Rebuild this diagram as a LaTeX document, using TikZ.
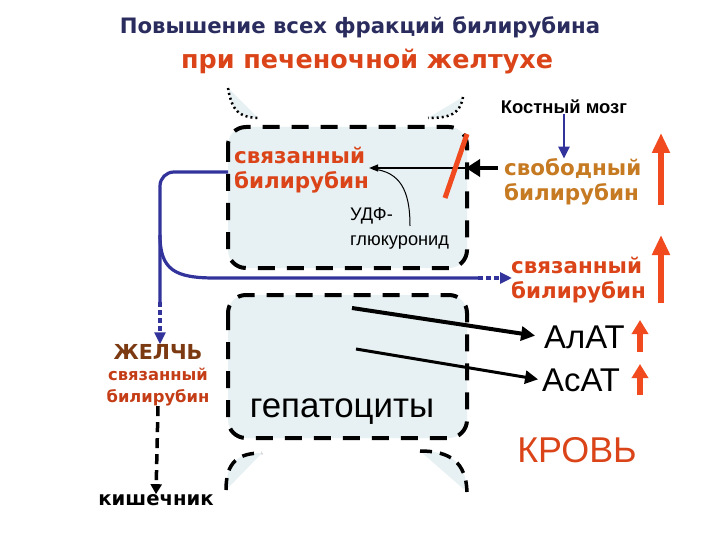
\documentclass[tikz,border=0pt]{standalone}
\usepackage{fontspec}
\setmainfont{Liberation Sans}
\newfontfamily\boldwide{DejaVu Sans}
\usetikzlibrary{arrows.meta,positioning,calc}
\definecolor{navytitle}{HTML}{2A2C5E}
\definecolor{redtext}{HTML}{DA4418}
\definecolor{ochretext}{HTML}{C67A22}
\definecolor{biletext}{HTML}{7C3A12}
\definecolor{bileblue}{HTML}{33339C}
\definecolor{uparrow}{HTML}{F04A1E}
\definecolor{cellfill}{HTML}{E7F0F2}

\begin{document}
\begin{tikzpicture}[x=1bp,y=-1bp,
  cell/.style={fill=cellfill,draw=black,line width=4bp,dash pattern=on 17bp off 12bp,rounded corners=18bp},
  cusp/.style={draw=black,line width=2.5bp,dash pattern=on 2bp off 3bp},
  cuspdash/.style={draw=black,line width=3.5bp,dash pattern=on 12bp off 8bp},
  blueline/.style={draw=bileblue,line width=3.2bp},
  bluetip/.style={-{Triangle[width=11bp,length=12bp]}},
  redup/.style={draw=uparrow,line width=5.5bp,-{Triangle[width=17bp,length=20bp]}},
  smallup/.style={draw=uparrow,line width=5.5bp,-{Triangle[width=16bp,length=14bp]}},
  heavy/.style={font=\boldwide\bfseries\fontsize{21.5}{25}\selectfont,align=left,inner sep=0pt},
  plain/.style={inner sep=0pt}]
\fill[white] (0,0) rectangle (720,540);
% title
\node[plain,text=navytitle,font=\boldwide\bfseries\fontsize{21.3}{24}\selectfont] (title1) at (360,27) {Повышение всех фракций билирубина};
\node[plain,text=redtext,font=\boldwide\bfseries\fontsize{25.5}{28}\selectfont] (title2) at (367,62) {при печеночной желтухе};
% neighbour cells
\fill[cellfill] (228,88) .. controls (232,112) and (240,117) .. (258,118) -- cycle;
\draw[cusp] (228,88) .. controls (232,112) and (240,117) .. (258,118);
\fill[cellfill] (463,97) .. controls (460,114) and (450,118) .. (428,118) -- cycle;
\draw[cusp] (463,97) .. controls (460,114) and (450,118) .. (428,118);
\fill[cellfill] (226,490) .. controls (226,462) and (238,453) .. (262,453) -- cycle;
\draw[cuspdash] (226,490) .. controls (226,462) and (238,453) .. (262,453);
\fill[cellfill] (420,451) .. controls (450,451) and (466,462) .. (467,492) -- cycle;
\draw[cuspdash] (420,451) .. controls (450,451) and (466,462) .. (467,492);
% hepatocytes
\draw[cell] (228,127) rectangle (467,268);
\draw[cell] (228,295) rectangle (467,438);
\node[heavy,text=redtext,anchor=west] (conjin) at (234,170) {связанный\\билирубин};
\node[plain,align=left,font=\fontsize{18.3}{25}\selectfont,anchor=north west] (udf) at (350,208) {УДФ-\\глюкуронид};
\node[plain,font=\fontsize{35}{38}\selectfont] (hepat) at (342,412) {гепатоциты};
% blood
\node[plain,font=\bfseries\fontsize{18.5}{20}\selectfont] (marrow) at (564,107) {Костный мозг};
\node[heavy,text=ochretext,anchor=west] (freebil) at (504,182) {свободный\\билирубин};
\node[heavy,text=redtext,anchor=west] (conjblood) at (511,280) {связанный\\билирубин};
\node[plain,font=\fontsize{33}{36}\selectfont,anchor=west] (alat) at (544,337) {АлАТ};
\node[plain,font=\fontsize{33}{36}\selectfont,anchor=west] (asat) at (542,380) {АсАТ};
\node[plain,text=redtext,font=\fontsize{36}{40}\selectfont] (blood) at (577,450) {КРОВЬ};
% bile
\node[plain,text=biletext,font=\boldwide\bfseries\fontsize{20.7}{24}\selectfont] (bile) at (158,352) {ЖЕЛЧЬ};
\node[plain,text=redtext!90!black,align=center,font=\boldwide\bfseries\fontsize{16.4}{22}\selectfont,below=8bp of bile] (bileconj) {связанный\\билирубин};
\node[plain,font=\boldwide\bfseries\fontsize{19.7}{22}\selectfont] (gut) at (156,500) {кишечник};

\coordinate (freeout) at (498,168);
\coordinate (freetip) at (466,168);
\draw[line width=4bp,-{Triangle[width=17bp,length=14bp]}] (freeout) -- (freetip);
\draw[line width=1.3bp,-{Triangle[width=7bp,length=9bp]}] (freetip) -- (conjin.east |- freetip);
\draw[uparrow,line width=5bp] (445,198) -- (467,134);
\coordinate (udfup) at (410,226);
\draw[line width=1bp] (udfup) .. controls (410,190) and (400,172) .. (373,169);

\coordinate (bluestart) at (228,172);
\coordinate (bloodin) at (512,278);
\draw[blueline,rounded corners=14bp] (bluestart) -- (160,172) -- (160,302);
\draw[blueline,bluetip,dash pattern=on 5bp off 3bp] (160,302) -- (bile.north -| 160,0);
\draw[blueline] (160,235) .. controls (160,270) and (175,278) .. (215,278) -- (478,278);
\draw[blueline,bluetip,dash pattern=on 5bp off 3bp] (478,278) -- (bloodin);
\draw[draw=bileblue,line width=2.5bp,bluetip] (marrow.south) -- (marrow.south |- freebil.north);

\draw[redup] (661,205) -- (661,133);
\draw[redup] (661,303) -- (661,235);
\draw[smallup] (640,352) -- (640,320);
\draw[smallup] (640,395) -- (640,364);

\coordinate (alatsrc) at (352,308);
\coordinate (asatsrc) at (356,349);
\draw[line width=4bp,-{Triangle[width=14bp,length=14bp]},shorten >=9bp] (alatsrc) -- (alat.west);
\draw[line width=3bp,-{Triangle[width=13bp,length=13bp]},shorten >=4bp] (asatsrc) -- (asat.west);
\draw[line width=3.5bp,dash pattern=on 10bp off 6bp,-{Triangle[width=11bp,length=10bp]}] (bileconj.south) -- (gut.north);
\end{tikzpicture}
\end{document}
